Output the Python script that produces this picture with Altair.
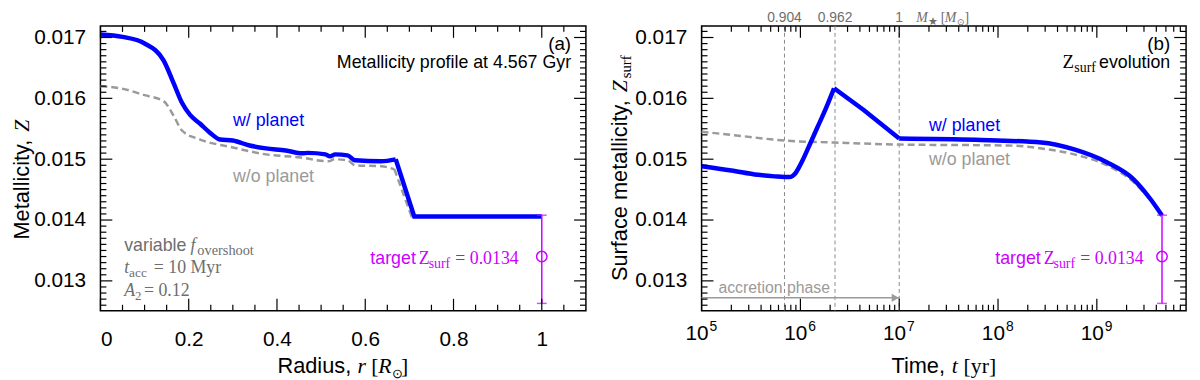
import altair as alt
import pandas as pd

# ---------------- data : panel (a) metallicity profile ----------------
r_with = [0.0, 0.05, 0.099, 0.143, 0.166, 0.185, 0.203, 0.226, 0.248, 0.271, 0.30, 0.338,
          0.375, 0.42, 0.457, 0.47, 0.51, 0.52, 0.532, 0.56, 0.577, 0.636, 0.669, 0.711, 1.0]
z_with = [0.01705, 0.01701, 0.016906, 0.016624, 0.016246, 0.015922, 0.015728, 0.015582,
          0.015436, 0.015323, 0.015306, 0.015225, 0.015177, 0.015144, 0.015096, 0.015104,
          0.015079, 0.015047, 0.015079, 0.015063, 0.014982, 0.014966, 0.014998, 0.014058, 0.014058]
r_without = [0.0, 0.045, 0.1, 0.143, 0.166, 0.185, 0.226, 0.30, 0.375, 0.45, 0.517, 0.53,
             0.56, 0.577, 0.636, 0.666, 0.705, 1.0]
z_without = [0.0162, 0.016165, 0.016052, 0.015955, 0.015712, 0.015468, 0.015323, 0.015193,
             0.015079, 0.015031, 0.014966, 0.014998, 0.014982, 0.014901, 0.014885, 0.014836,
             0.014058, 0.014058]
r_break_with, r_break_without = 0.669, 0.666  # end of the smooth part of each profile

# ---------------- data : panel (b) surface metallicity evolution ----------------
t_with = [1e5, 2.0e5, 3.7e5, 5.46e5, 6.9e5, 7.7e5, 8.3e5, 8.97e5, 9.7e5, 1.05e6, 1.27e6,
          1.48e6, 1.73e6, 2.19e6, 4.37e6, 1.0e7, 5.9e7, 2.75e8, 5.9e8, 1.26e9, 2.34e9,
          3.47e9, 4.567e9]
zs_with = [0.014885, 0.014815, 0.014744, 0.014718, 0.014707, 0.014707, 0.014723, 0.014776,
           0.014869, 0.014977, 0.015274, 0.015517, 0.01576, 0.016165, 0.015809, 0.015339,
           0.015318, 0.015274, 0.01516, 0.01495, 0.014674, 0.01435, 0.014075]
t_peak, t_kink = 2.19e6, 1.0e7
t_without = [1e5, 2.5e5, 6.9e5, 2.19e6, 9.8e6, 1.26e8, 2.75e8, 5.9e8, 1.26e9, 2.34e9,
             3.47e9, 4.567e9]
zs_without = [0.015452, 0.015382, 0.015306, 0.015274, 0.015241, 0.015225, 0.015177,
              0.015079, 0.014901, 0.014626, 0.014334, 0.014075]

# target surface metallicity with error bar
target_z = 0.0134
target_lo = 0.01263
target_hi = 0.01408
target_r = 1.0
target_t = 4.567e9

# stellar mass markers (top axis of panel b)
mass_t = [6.9e5, 2.24e6, 1.0e7]
mass_labels = ["0.904", "0.962", "1"]

# accretion phase
acc_start, acc_end = 1e5, 1e7

# axis ticks
y_major = [0.013, 0.014, 0.015, 0.016, 0.017]
y_minor = [round(0.0126 + 0.0001 * i, 4) for i in range(46) if (i + 6) % 10 != 0]
r_major = [0.0, 0.2, 0.4, 0.6, 0.8, 1.0]
r_minor = [0.05, 0.1, 0.15, 0.25, 0.3, 0.35, 0.45, 0.5, 0.55, 0.65, 0.7, 0.75, 0.85,
           0.9, 0.95, 1.05]
t_major = [1e5, 1e6, 1e7, 1e8, 1e9]
t_exp = ["5", "6", "7", "8", "9"]
t_minor = [k * 10 ** n for n in range(5, 10) for k in range(2, 10) if k * 10 ** n < 8e9]

# ---------------- styling ----------------
W1, W2, H = 491, 490, 288
FS, FR = "Liberation Sans", "Liberation Serif"
BLUE, GRAY, DGRAY, MAG = "#0000ff", "#9a9a9a", "#6e6e6e", "#cc00ff"
MAJ, MIN = 12, 6

ys = alt.Scale(domain=[0.01251, 0.01719], nice=False, zero=False)
xs1 = alt.Scale(domain=[0, 1.1], nice=False, zero=False)
xs2 = alt.Scale(type="log", domain=[1e5, 8e9], nice=False)
yaxis = alt.Axis(values=y_major, format=".3f", title=None)
xaxis1 = alt.Axis(values=r_major, format="~g", title=None, labelPadding=18)


def Y(f):
    return alt.Y(f, type="quantitative", scale=ys, axis=yaxis)


def X1(f):
    return alt.X(f, type="quantitative", scale=xs1, axis=xaxis1)


def X2(f):
    return alt.X(f, type="quantitative", scale=xs2, axis=None)


def T(text, x, y, size=18, color="black", font=FS, style="normal", align="left",
      angle=0, opacity=1):
    return alt.Chart(pd.DataFrame({"k": [0]})).mark_text(
        text=text, font=font, fontSize=size, fontStyle=style, align=align,
        baseline="alphabetic", angle=angle, color=color, opacity=opacity
    ).encode(x=alt.value(x), y=alt.value(y))


def yticks(W):
    out = []
    for vals, L in ((y_major, MAJ), (y_minor, MIN)):
        b = alt.Chart(pd.DataFrame({"v": vals})).mark_rule(color="black", strokeWidth=1.2)
        out.append(b.encode(y=Y("v"), x=alt.value(0), x2=alt.value(L)))
        out.append(b.encode(y=Y("v"), x=alt.value(W - L), x2=alt.value(W)))
    return out


def xticks(X, major, minor):
    out = []
    for vals, L in ((major, MAJ), (minor, MIN)):
        b = alt.Chart(pd.DataFrame({"v": vals})).mark_rule(color="black", strokeWidth=1.2)
        out.append(b.encode(x=X("v"), y=alt.value(H), y2=alt.value(H - L)))
        out.append(b.encode(x=X("v"), y=alt.value(0), y2=alt.value(L)))
    return out


def errorbar(X, xv):
    d = pd.DataFrame({"x": [xv], "c": [target_z], "lo": [target_lo], "hi": [target_hi]})
    base = alt.Chart(d)
    return [
        base.mark_rule(color=MAG, strokeWidth=1.5).encode(x=X("x"), y=Y("lo"), y2="hi"),
        base.mark_tick(color=MAG, orient="horizontal", size=10, thickness=1.5).encode(x=X("x"), y=Y("lo")),
        base.mark_tick(color=MAG, orient="horizontal", size=10, thickness=1.5).encode(x=X("x"), y=Y("hi")),
        base.mark_point(color=MAG, shape="circle", filled=False, size=110, strokeWidth=1.5,
                        opacity=1).encode(x=X("x"), y=Y("c")),
    ]


def line(df, X, xf, color, smooth, dashed=False, detail=None):
    kw = dict(color=color, strokeWidth=2.5 if dashed else 4.5,
              interpolate="monotone" if smooth else "linear")
    if dashed:
        kw["strokeDash"] = [7, 4]
    enc = dict(x=X(xf), y=Y("z"))
    if detail:
        enc["detail"] = alt.Detail(detail, type="nominal")
    return alt.Chart(df).mark_line(**kw).encode(**enc)


# ---------------- panel (a) ----------------
da_w = pd.DataFrame({"r": r_with, "z": z_with})
da_wo = pd.DataFrame({"r": r_without, "z": z_without})
left_layers = [
    line(da_wo[da_wo.r <= r_break_without], X1, "r", GRAY, True, dashed=True),
    line(da_wo[da_wo.r >= r_break_without], X1, "r", GRAY, False, dashed=True),
    line(da_w[da_w.r <= r_break_with], X1, "r", BLUE, True),
    line(da_w[da_w.r >= r_break_with], X1, "r", BLUE, False),
]
left_layers += errorbar(X1, target_r)
left_layers += yticks(W1) + xticks(X1, r_major, r_minor)
left_layers += [
    T("0", 10, -4, size=14, opacity=0),
    T("(a)", 476, 24, size=19, align="right"),
    T("Metallicity profile at 4.567 Gyr", 476, 43, size=18, align="right"),
    T("w/ planet", 134, 101, size=18, color=BLUE),
    T("w/o planet", 134, 158, size=18, color=GRAY),
    T("variable", 24, 228, size=18, color=DGRAY),
    T("f", 91, 228, size=18, color=DGRAY, font=FR, style="italic"),
    T("overshoot", 98, 232, size=14.5, color=DGRAY, font=FR),
    T("t", 24, 250, size=18, color=DGRAY, font=FR, style="italic"),
    T("acc", 29, 254, size=13.5, color=DGRAY, font=FR),
    T("= 10 Myr", 54, 250, size=18, color=DGRAY, font=FR),
    T("A", 24, 273, size=18, color=DGRAY, font=FR, style="italic"),
    T("2", 35, 277, size=13, color=DGRAY, font=FR),
    T("= 0.12", 44, 273, size=18, color=DGRAY, font=FR),
    T("target", 319, 241, size=18, color=MAG, align="right"),
    T("Z", 322, 241, size=18, color=MAG, font=FR),
    T("surf", 332, 245, size=14, color=MAG, font=FR),
    T("= 0.0134", 423, 241, size=18, color=MAG, font=FR, align="right"),
    # x title
    T("Radius,", 179, 351, size=22),
    T("r", 260, 351, size=22, font=FR, style="italic"),
    T("[", 274, 351, size=22, font=FR),
    T("R", 281, 351, size=22, font=FR, style="italic"),
    T("⊙", 295, 356, size=13, font=FR),
    T("]", 304, 351, size=22, font=FR),
    # y title
    T("Metallicity,", -72, 216, size=22, angle=270),
    T("Z", -72, 107, size=22, font=FR, style="italic", angle=270),
]
left = alt.layer(*left_layers).properties(width=W1, height=H)

# ---------------- panel (b) ----------------
db_w = pd.DataFrame({"t": t_with, "z": zs_with})
db_w_smooth = pd.concat([db_w[db_w.t <= t_peak].assign(seg="a"),
                         db_w[db_w.t >= t_kink].assign(seg="c")])
db_w_lin = db_w[(db_w.t >= t_peak) & (db_w.t <= t_kink)]
db_wo = pd.DataFrame({"t": t_without, "z": zs_without})
dm = pd.DataFrame({"t": mass_t, "lab": mass_labels})
dacc = pd.DataFrame({"a": [acc_start], "b": [acc_end]})
dlab = pd.DataFrame({"t": t_major, "e": t_exp})
right_layers = [
    alt.Chart(dm).mark_rule(color="#8a8a8a", strokeWidth=1, strokeDash=[4, 3]).encode(x=X2("t")),
    line(db_wo, X2, "t", GRAY, True, dashed=True),
    line(db_w_smooth, X2, "t", BLUE, True, detail="seg"),
    line(db_w_lin, X2, "t", BLUE, False),
    alt.Chart(dacc).mark_rule(color=GRAY, strokeWidth=1.5).encode(x=X2("a"), x2="b", y=alt.value(275)),
    alt.Chart(dacc).mark_point(shape="triangle-right", filled=True, size=70, color=GRAY,
                               opacity=1, xOffset=-4).encode(x=X2("b"), y=alt.value(275)),
    alt.Chart(dm).mark_text(font=FS, fontSize=14, color=DGRAY, baseline="alphabetic").encode(
        x=X2("t"), y=alt.value(-4), text="lab:N"),
    alt.Chart(dlab).mark_text(font=FS, fontSize=21, color="black", align="right", dx=7,
                              baseline="alphabetic").encode(x=X2("t"), y=alt.value(318), text=alt.value("10")),
    alt.Chart(dlab).mark_text(font=FS, fontSize=14, color="black", align="left", dx=8,
                              baseline="alphabetic").encode(x=X2("t"), y=alt.value(309), text="e:N"),
]
right_layers += errorbar(X2, target_t)
right_layers += yticks(W2) + xticks(X2, t_major, t_minor)
right_layers += [
    T("M", 217, -4, size=14, color=DGRAY, font=FR, style="italic"),
    T("★", 229, -1, size=11, color=DGRAY, font=FR),
    T("[", 242, -4, size=14, color=DGRAY, font=FR),
    T("M", 246, -4, size=14, color=DGRAY, font=FR, style="italic"),
    T("⊙", 258, -1, size=9, color=DGRAY, font=FR),
    T("]", 266, -4, size=14, color=DGRAY, font=FR),
    T("(b)", 474, 24, size=19, align="right"),
    T("evolution", 474, 43, size=18, align="right"),
    T("Z", 365, 43, size=19, font=FR),
    T("surf", 377, 47, size=14, font=FR),
    T("w/ planet", 230, 106, size=18, color=BLUE),
    T("w/o planet", 230, 141, size=18, color=GRAY),
    T("target", 343, 241, size=18, color=MAG, align="right"),
    T("Z", 346, 241, size=18, color=MAG, font=FR),
    T("surf", 356, 245, size=14, color=MAG, font=FR),
    T("= 0.0134", 447, 241, size=18, color=MAG, font=FR, align="right"),
    T("accretion phase", 17, 270, size=16, color=GRAY),
    # x title
    T("Time,", 192, 351, size=22),
    T("t", 253, 351, size=22, font=FR, style="italic"),
    T("[yr]", 265, 351, size=22, font=FR),
    # y title
    T("Surface metallicity,", -75, 258, size=22, angle=270),
    T("Z", -75, 67, size=22, font=FR, style="italic", angle=270),
    T("surf", -71, 53, size=15, font=FR, angle=270),
]
right = alt.layer(*right_layers).properties(width=W2, height=H)

chart = alt.hconcat(left, right, spacing=21).properties(
    padding={"left": 2.5, "top": 0, "right": 4, "bottom": 0}
).configure_view(stroke="black", strokeWidth=1.5).configure_axis(
    labelFont=FS, labelFontSize=21, labelColor="black", ticks=False, domain=False,
    grid=False, labelPadding=15
)

chart.save("out.html", embed_options={"renderer": "svg", "actions": False})
